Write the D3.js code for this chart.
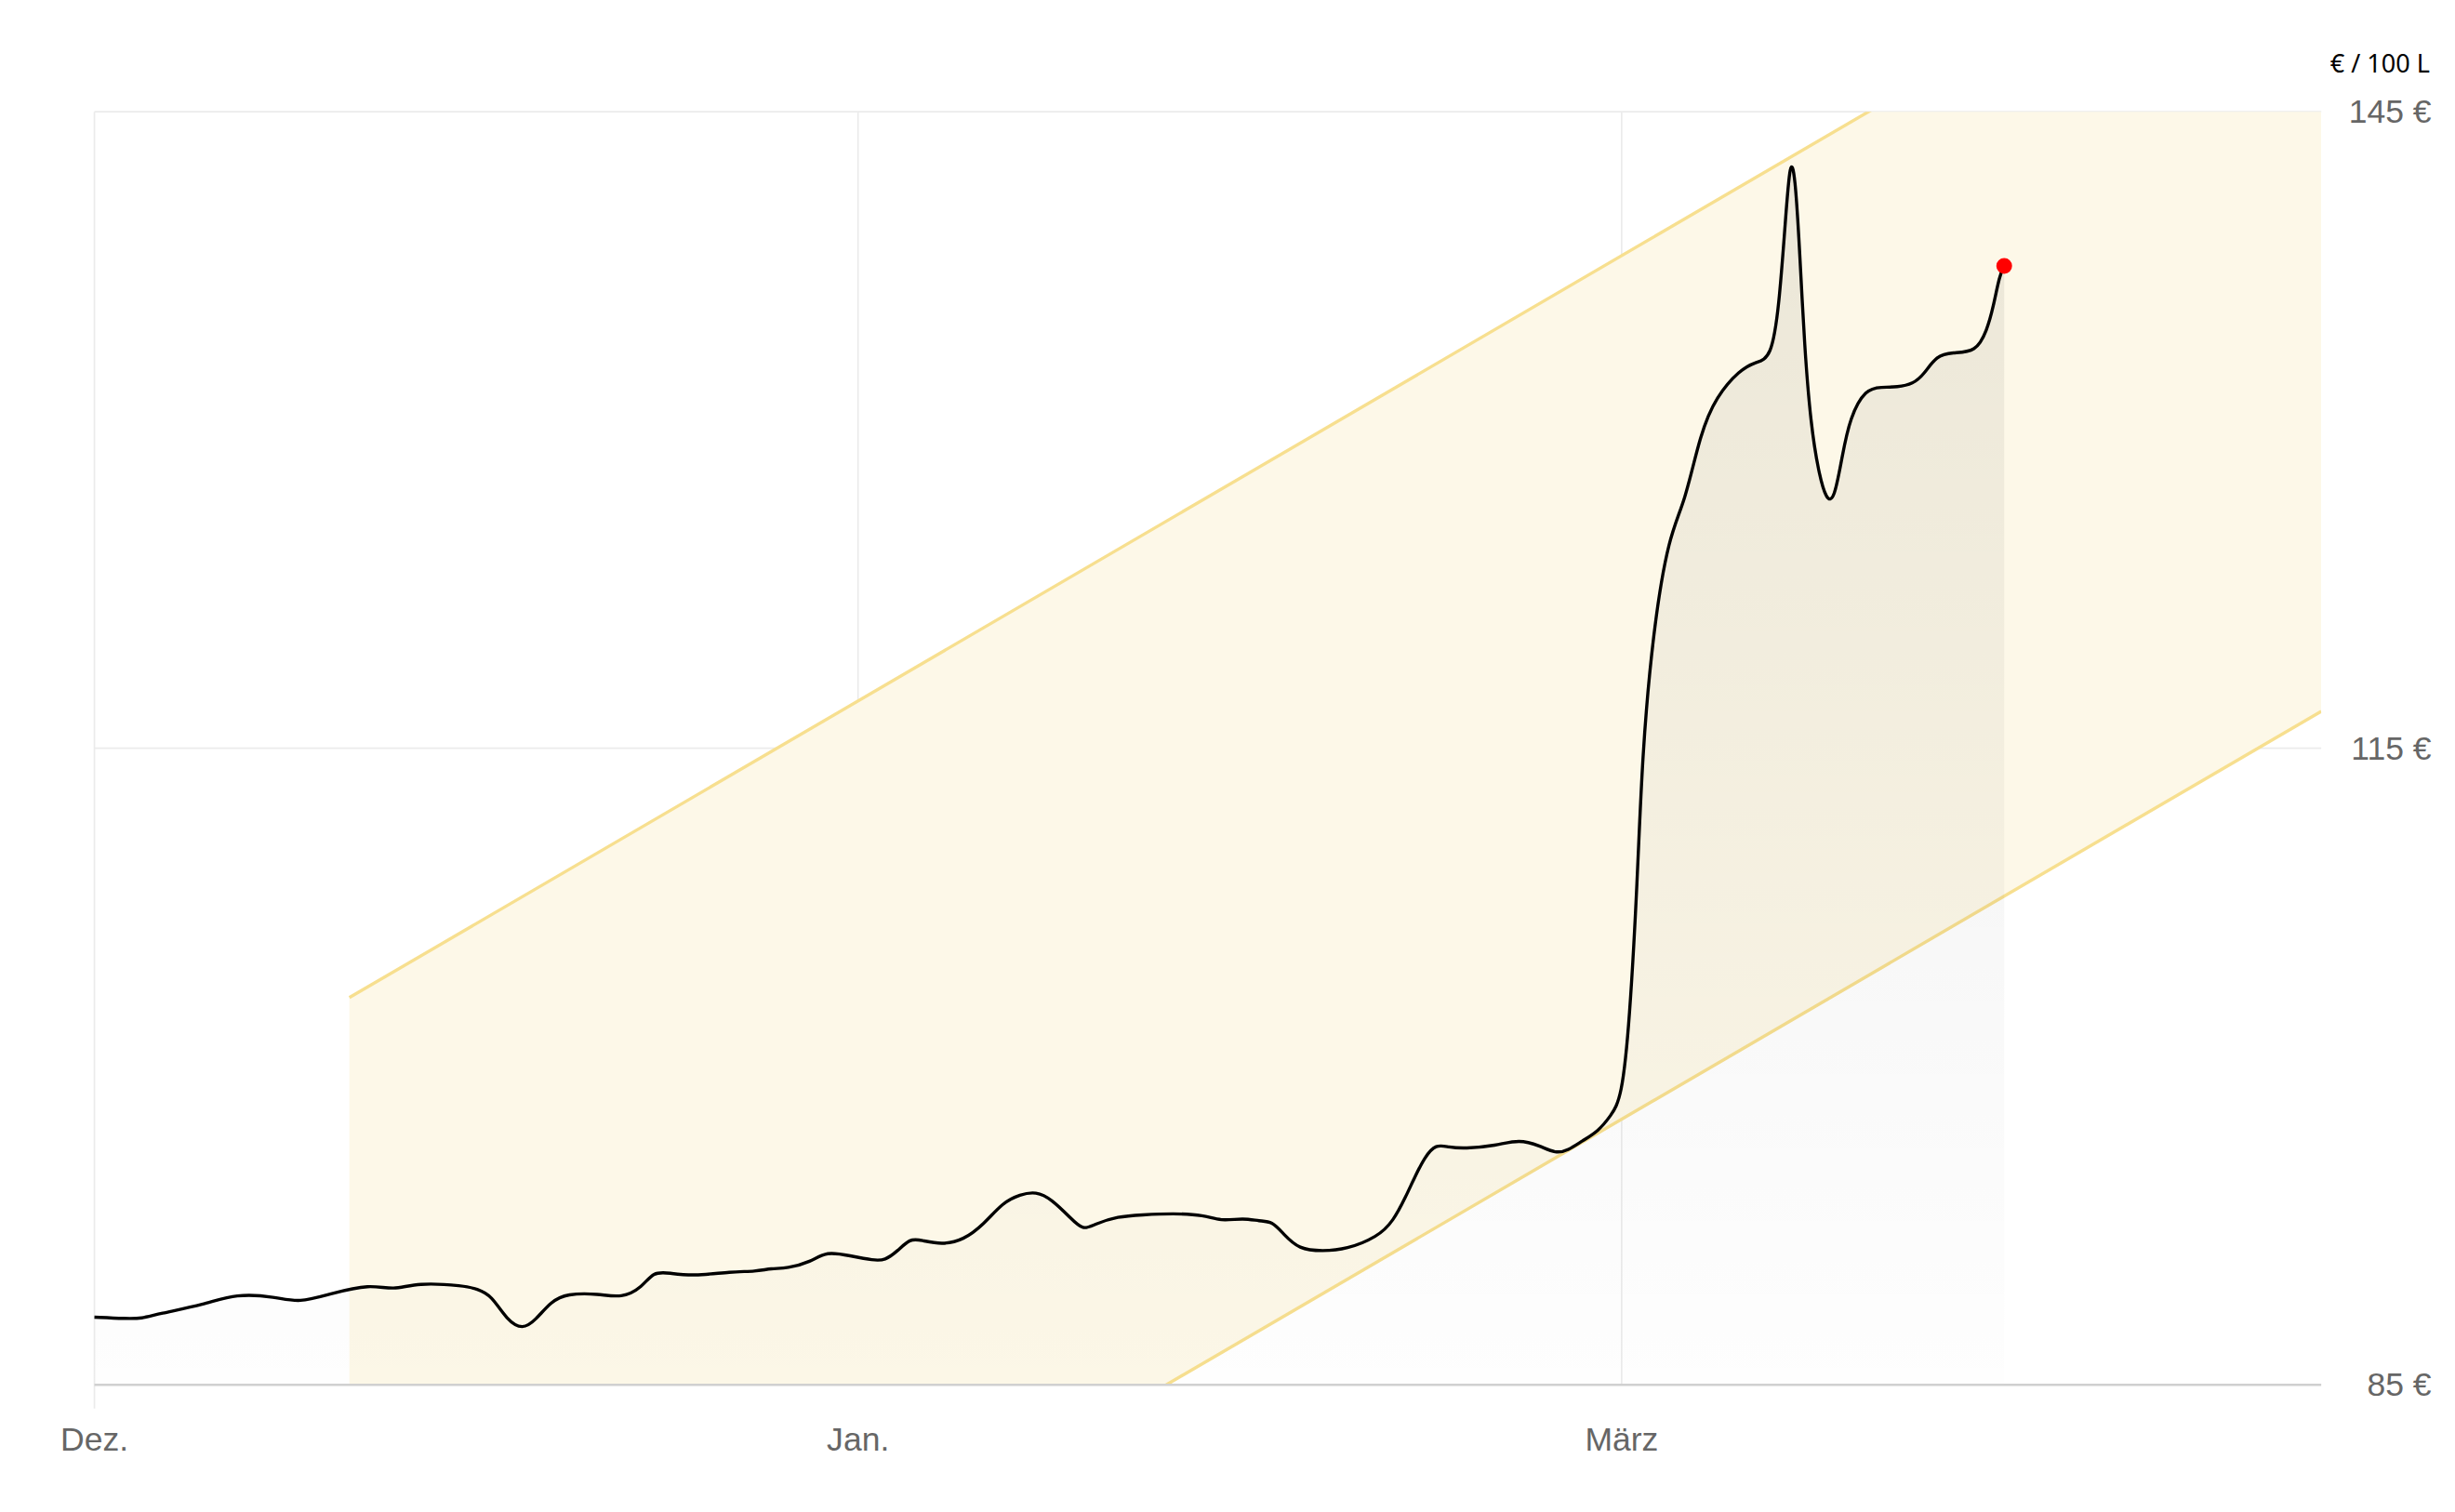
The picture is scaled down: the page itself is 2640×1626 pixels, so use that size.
<!DOCTYPE html><html><head><meta charset="utf-8"><script src="https://cdn.jsdelivr.net/npm/d3@7"></script>
<style>body{margin:0;background:#fff}</style></head><body><script>
const days=[0,1.28,1.92,2.56,4.47,5.75,7.35,8.31,9.59,11.19,12.14,13.10,15.02,15.53,16.11,16.75,17.39,17.90,18.54,19.18,20.46,21.41,22.24,22.69,23.33,24.29,25.88,26.84,27.48,28.12,29.08,29.72,30.68,31.64,32.09,32.60,33.11,33.56,34.39,35.28,36.11,36.88,37.58,38.22,38.86,39.63,40.14,40.59,41.55,42.51,43.79,45.06,45.70,46.66,47.30,47.81,48.26,48.90,49.86,50.82,52.09,52.73,53.25,53.57,54.01,54.46,54.97,55.61,56.89,57.85,58.68,59.32,59.83,60.40,61.04,61.56,62.00,62.32,62.64,62.83,63.28,63.92,64.56,65.20,65.84,66.80,67.44,68.07,68.39,68.65,68.84,69.04,69.23,69.42,69.68,69.99,70.31,70.63,70.95,71.27,71.91,72.55,73.19,73.83,74.27,74.78,75.42,76.38,76.83,77.09,77.34,77.53];
const prices=[88.19,88.12,88.12,88.34,88.78,89.30,89.15,88.86,89.30,89.75,89.45,89.82,89.67,89.52,89.23,88.04,87.60,88.04,88.93,89.30,89.30,89.08,89.60,90.34,90.27,90.12,90.34,90.34,90.49,90.49,90.79,91.30,91.08,90.86,90.86,91.30,91.90,91.82,91.60,91.82,92.57,93.60,93.97,94.12,93.75,92.86,92.27,92.57,92.94,93.01,93.08,93.01,92.71,92.86,92.71,92.71,92.12,91.38,91.30,91.38,91.97,92.71,93.90,94.72,95.75,96.35,96.20,96.13,96.27,96.57,96.27,95.90,96.05,96.50,96.94,97.68,98.50,102.06,108.73,114.67,120.60,125.05,126.54,129.87,131.58,132.84,133.21,133.36,135.81,139.89,142.85,142.11,138.40,133.95,130.24,128.02,126.68,126.68,128.76,130.61,131.95,132.02,132.02,132.17,132.62,133.51,133.66,133.66,134.69,135.81,137.29,137.73];
const yTicks=[85,115,145];
const yTickLabels=["85 €","115 €","145 €"];
const xTicks=[0,31,62];
const xTickLabels=["Dez.","Jan.","März"];
const bandStart=10.35, bandUpperStart=103.25, bandLowerStart=62.55, bandSlope=0.677;
const unitLabel="€ / 100 L";
const xMax=90.4;

const W=1560,H=960.8;
const svg=d3.select("body").append("svg").attr("width",2640).attr("height",1626).attr("viewBox",`0 0 ${W} ${H}`).style("font-family","Liberation Sans, Arial, sans-serif");
const x=d3.scaleLinear().domain([0,xMax]).range([60,1475]);
const y=d3.scaleLinear().domain([85,145]).range([880,71]);
const defs=svg.append("defs");
defs.append("clipPath").attr("id","pc").append("rect").attr("x",60).attr("y",71).attr("width",1415).attr("height",809);
const g=defs.append("linearGradient").attr("id","ag").attr("x1",0).attr("x2",0).attr("y1",0).attr("y2",1);
g.append("stop").attr("offset","0").attr("stop-color","#000").attr("stop-opacity",0.07);
g.append("stop").attr("offset","1").attr("stop-color","#000").attr("stop-opacity",0.005);
// grid
svg.selectAll(".hg").data(yTicks.slice(1)).join("line").attr("x1",60).attr("x2",1475).attr("y1",d=>y(d)).attr("y2",d=>y(d)).attr("stroke","#ebebeb");
svg.selectAll(".vg").data(xTicks).join("line").attr("x1",d=>x(d)).attr("x2",d=>x(d)).attr("y1",71).attr("y2",(d,i)=>i==0?895:880).attr("stroke","#ebebeb");
// band
const bandPts=[bandStart,xMax];
const bArea=d3.area().x(d=>x(d)).y0(d=>y(bandLowerStart+bandSlope*(d-bandStart))).y1(d=>y(bandUpperStart+bandSlope*(d-bandStart)));
const band=svg.append("g").attr("clip-path","url(#pc)");
band.append("path").datum(bandPts).attr("d",bArea).attr("fill","#fdf8e8");
const lineU=d3.line().x(d=>x(d)).y(d=>y(bandUpperStart+bandSlope*(d-bandStart)));
const lineL=d3.line().x(d=>x(d)).y(d=>y(bandLowerStart+bandSlope*(d-bandStart)));
band.append("path").datum(bandPts).attr("d",lineU).attr("stroke","#f7df8f").attr("stroke-width",2).attr("fill","none");
band.append("path").datum(bandPts).attr("d",lineL).attr("stroke","#f7df8f").attr("stroke-width",2).attr("fill","none");
// area + line
const data=days.map((d,i)=>[d,prices[i]]);
svg.append("path").datum(data).attr("d",d3.area().curve(d3.curveBasis).x(d=>x(d[0])).y0(y(85)).y1(d=>y(d[1]))).attr("fill","url(#ag)");
svg.append("line").attr("x1",60).attr("x2",1475).attr("y1",y(85)).attr("y2",y(85)).attr("stroke","#d0d0d0").attr("stroke-width",1.5);
svg.append("path").datum(data).attr("d",d3.line().curve(d3.curveBasis).x(d=>x(d[0])).y(d=>y(d[1]))).attr("fill","none").attr("stroke","#000").attr("stroke-width",2);
const last=data[data.length-1];
svg.append("circle").attr("cx",x(last[0])).attr("cy",y(last[1])).attr("r",5).attr("fill","#f00");
// labels
svg.selectAll(".yl").data(yTicks).join("text").attr("x",1545).attr("y",d=>y(d)+7).attr("text-anchor","end").attr("font-size",21).attr("fill","#666").text((d,i)=>yTickLabels[i]);
svg.selectAll(".xl").data(xTicks).join("text").attr("x",d=>x(d)).attr("y",922).attr("text-anchor","middle").attr("font-size",21).attr("fill","#666").text((d,i)=>xTickLabels[i]);
svg.append("text").attr("x",1544).attr("y",46).attr("text-anchor","end").attr("font-size",16).attr("fill","#000").style("font-family","Noto Sans, sans-serif").text(unitLabel);
</script></body></html>
